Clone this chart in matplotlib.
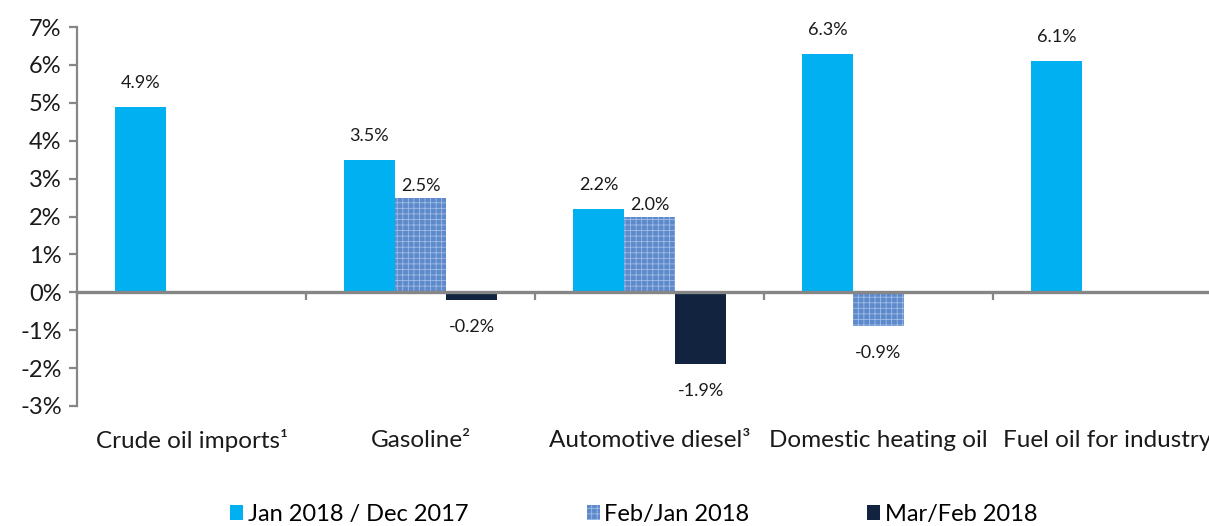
import numpy as np
import matplotlib.pyplot as plt

# data
categories = ['Crude oil imports\u00b9', 'Gasoline\u00b2', 'Automotive diesel\u00b3',
              'Domestic heating oil', 'Fuel oil for industry']
series_names = ['Jan 2018 / Dec 2017', 'Feb/Jan 2018', 'Mar/Feb 2018']
jan_dec = [4.9, 3.5, 2.2, 6.3, 6.1]
feb_jan = [np.nan, 2.5, 2.0, -0.9, np.nan]
mar_feb = [np.nan, -0.2, -1.9, np.nan, np.nan]
y_ticks = [-3, -2, -1, 0, 1, 2, 3, 4, 5, 6, 7]

plt.rcParams['font.family'] = ['Lato', 'DejaVu Sans']
plt.rcParams['hatch.linewidth'] = 0.6

fig = plt.figure(figsize=(12.09, 5.26), dpi=100)
ax = fig.add_axes([77 / 1209, 1 - 406 / 526, 5 * 229 / 1209, 379 / 526])

x = np.arange(len(categories))
w = 0.223
styles = [
    dict(color='#00B0F0'),
    dict(facecolor='#5E89CB', edgecolor='#9FBDE6', hatch='+++', linewidth=0),
    dict(color='#12233F'),
]
all_series = [jan_dec, feb_jan, mar_feb]
gray = '#868686'

for k, (vals, st, name) in enumerate(zip(all_series, styles, series_names)):
    pos = x + (k - 1) * w
    ax.bar(pos, vals, width=w, label=name, zorder=2, **st)
    for xi, v in zip(pos, vals):
        if np.isnan(v):
            continue
        if v >= 0:
            off = 12 if k == 1 else 24
        else:
            off = -27
        ax.annotate(f'{v:.1f}%', (xi, v), xytext=(0, off * 0.72),
                    textcoords='offset points', ha='center', va='center',
                    fontsize=13, color='#1a1a1a')

ax.set_xlim(-0.5, len(categories) - 0.5)
ax.set_ylim(-3, 7)
ax.set_yticks(y_ticks)
ax.set_yticklabels([f'{t}%' for t in y_ticks], fontsize=17, color='#1a1a1a')

# x axis drawn at zero with ticks on category boundaries
ax.spines['bottom'].set_position(('data', 0))
ax.spines['bottom'].set_color(gray)
ax.spines['bottom'].set_linewidth(2.4)
ax.spines['bottom'].set_zorder(3)
ax.spines['left'].set_color(gray)
ax.spines['left'].set_linewidth(1.6)
ax.spines['top'].set_visible(False)
ax.spines['right'].set_visible(False)
ax.set_xticks(np.arange(len(categories) + 1) - 0.5)
ax.set_xticklabels([])
ax.tick_params(axis='x', direction='out', length=6, width=1.6, color=gray)
ax.tick_params(axis='y', direction='out', length=6, width=1.6, color=gray, pad=5)

for xi, c in zip(x, categories):
    ax.text(xi, -0.092, c, transform=ax.get_xaxis_transform(), ha='center',
            va='center', fontsize=17.5, color='#1a1a1a')

fig.legend(loc='center', bbox_to_anchor=(634 / 1209, 1 - 514 / 526), ncol=3,
           frameon=False, fontsize=17, handlelength=0.55, handleheight=0.6,
           handletextpad=0.2, columnspacing=5.0, borderaxespad=0)

plt.savefig('out.png', dpi=100)
